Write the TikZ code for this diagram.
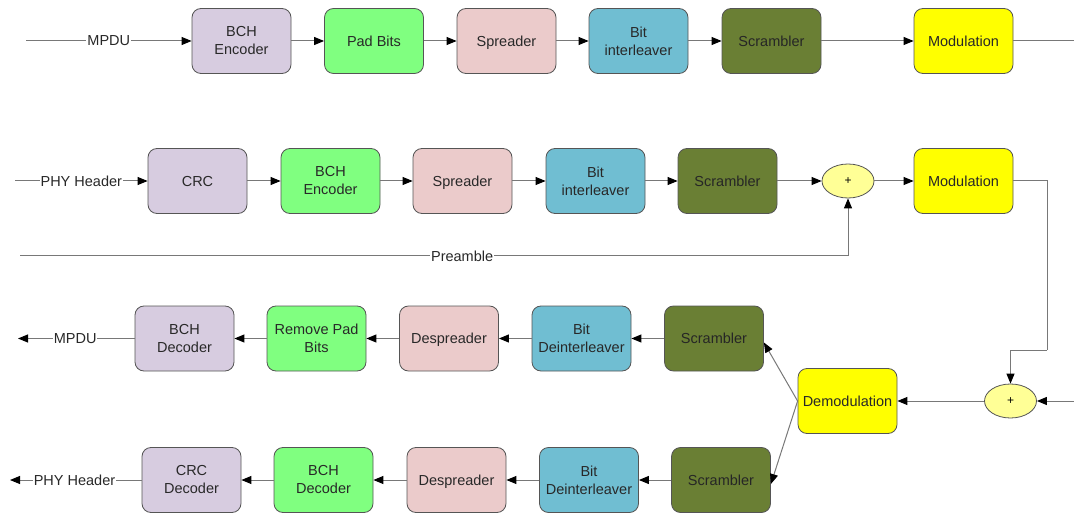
\documentclass[tikz,border=0pt]{standalone}
\usepackage{fontspec}
\setmainfont{Liberation Sans}
\usetikzlibrary{arrows.meta,shapes.geometric}
\definecolor{clav}{RGB}{215,204,224}
\definecolor{cgreen}{RGB}{128,255,128}
\definecolor{cpink}{RGB}{235,203,203}
\definecolor{cblue}{RGB}{112,190,210}
\definecolor{colive}{RGB}{106,127,52}
\definecolor{cyel}{RGB}{255,255,0}
\definecolor{cell}{RGB}{255,255,150}
\definecolor{cbord}{RGB}{85,85,85}
\definecolor{cline}{RGB}{120,120,120}
\definecolor{ctext}{RGB}{40,40,40}
\tikzset{
  blk/.style={draw=cbord, line width=0.8pt, rounded corners=9pt, minimum width=99pt, minimum height=65pt,
    align=center, text=ctext, font=\fontsize{14.5}{18}\selectfont, inner sep=2pt},
  one/.style={text height=10.4pt, text depth=0pt},
  lav/.style={blk, fill=clav},
  grn/.style={blk, fill=cgreen},
  pnk/.style={blk, fill=cpink},
  blu/.style={blk, fill=cblue},
  olv/.style={blk, fill=colive, text=black!85},
  yel/.style={blk, fill=cyel},
  plus/.style={ellipse, draw=cbord, line width=0.8pt, fill=cell, minimum width=52pt, minimum height=34pt,
    inner sep=0pt, font=\fontsize{12}{14}\selectfont},
  arr/.style={draw=cline, line width=1pt, -{Triangle[length=10pt,width=8pt,color=black]}},
  ln/.style={draw=cline, line width=1pt},
  lbl/.style={fill=white, inner sep=1pt, text=ctext, font=\fontsize{14.5}{18}\selectfont},
}
\begin{document}
\begin{tikzpicture}[x=1pt,y=-1pt]
\useasboundingbox (0,0) rectangle (1074,513);
% Row 1
\node[lav] (bch1) at (241.5,41) {BCH\\Encoder};
\node[grn,one] (pad1) at (374,41) {Pad Bits};
\node[pnk,one] (spr1) at (506.5,41) {Spreader};
\node[blu] (int1) at (638.5,41) {Bit\\interleaver};
\node[olv,one] (scr1) at (771.5,41) {Scrambler};
\node[yel,one] (mod1) at (963.5,41) {Modulation};
\coordinate (in1) at (26,41);
\coordinate (out1) at (1074,41);
\draw[arr] (in1) -- node[lbl]{MPDU} (bch1.west);
\draw[arr] (bch1) -- (pad1);
\draw[arr] (pad1) -- (spr1);
\draw[arr] (spr1) -- (int1);
\draw[arr] (int1) -- (scr1);
\draw[arr] (scr1) -- (mod1);
\draw[ln] (mod1.east) -- (out1);
% Row 2
\node[lav,one] (crc2) at (197.5,181) {CRC};
\node[grn] (bch2) at (330.5,181) {BCH\\Encoder};
\node[pnk,one] (spr2) at (462.5,181) {Spreader};
\node[blu] (int2) at (595.5,181) {Bit\\interleaver};
\node[olv,one] (scr2) at (727.5,181) {Scrambler};
\node[plus] (plus2) at (848,181) {+};
\node[yel,one] (mod2) at (963.5,181) {Modulation};
\coordinate (in2) at (15,181);
\coordinate (pre) at (20,256);
\draw[arr] (in2) -- node[lbl]{PHY Header} (crc2.west);
\draw[arr] (crc2) -- (bch2);
\draw[arr] (bch2) -- (spr2);
\draw[arr] (spr2) -- (int2);
\draw[arr] (int2) -- (scr2);
\draw[arr] (scr2) -- (plus2);
\draw[arr] (plus2) -- (mod2);
\draw[arr] (pre) -| node[lbl,pos=0.267]{Preamble} (plus2.south);
% Receiver
\node[plus] (plus3) at (1010.5,401) {+};
\node[yel,one] (dem) at (847.5,401) {Demodulation};
\coordinate (fb) at (1047,350);
\coordinate (in3) at (1074,401);
\draw[ln] (mod2.east) -| (fb);
\draw[arr] (fb) -| (plus3.north);
\draw[arr] (in3) -- (plus3.east);
\draw[arr] (plus3) -- (dem);
% Row 3
\node[olv,one] (scr3) at (714,338.5) {Scrambler};
\node[blu] (int3) at (581.5,338.5) {Bit\\Deinterleaver};
\node[pnk,one] (spr3) at (449,338.5) {Despreader};
\node[grn] (pad3) at (316.5,338.5) {Remove Pad\\Bits};
\node[lav] (bch3) at (184.5,338.5) {BCH\\Decoder};
\coordinate (out3) at (18,338.5);
\draw[arr] (scr3) -- (int3);
\draw[arr] (int3) -- (spr3);
\draw[arr] (spr3) -- (pad3);
\draw[arr] (pad3) -- (bch3);
\draw[arr] (bch3.west) -- node[lbl,pos=0.51]{MPDU} (out3);
% Row 4
\node[olv,one] (scr4) at (721,480) {Scrambler};
\node[blu] (int4) at (589,480) {Bit\\Deinterleaver};
\node[pnk,one] (spr4) at (456.5,480) {Despreader};
\node[grn] (bch4) at (323.5,480) {BCH\\Decoder};
\node[lav] (crc4) at (191.5,480) {CRC\\Decoder};
\coordinate (out4) at (10,480);
\draw[arr] (scr4) -- (int4);
\draw[arr] (int4) -- (spr4);
\draw[arr] (spr4) -- (bch4);
\draw[arr] (bch4) -- (crc4);
\draw[arr] (crc4.west) -- node[lbl,pos=0.51]{PHY Header} (out4);
% Demod fan-out
\draw[arr] (dem.west) -- ([yshift=-4pt]scr3.east);
\draw[arr] (dem.west) -- ([yshift=-4pt]scr4.east);
\end{tikzpicture}
\end{document}
